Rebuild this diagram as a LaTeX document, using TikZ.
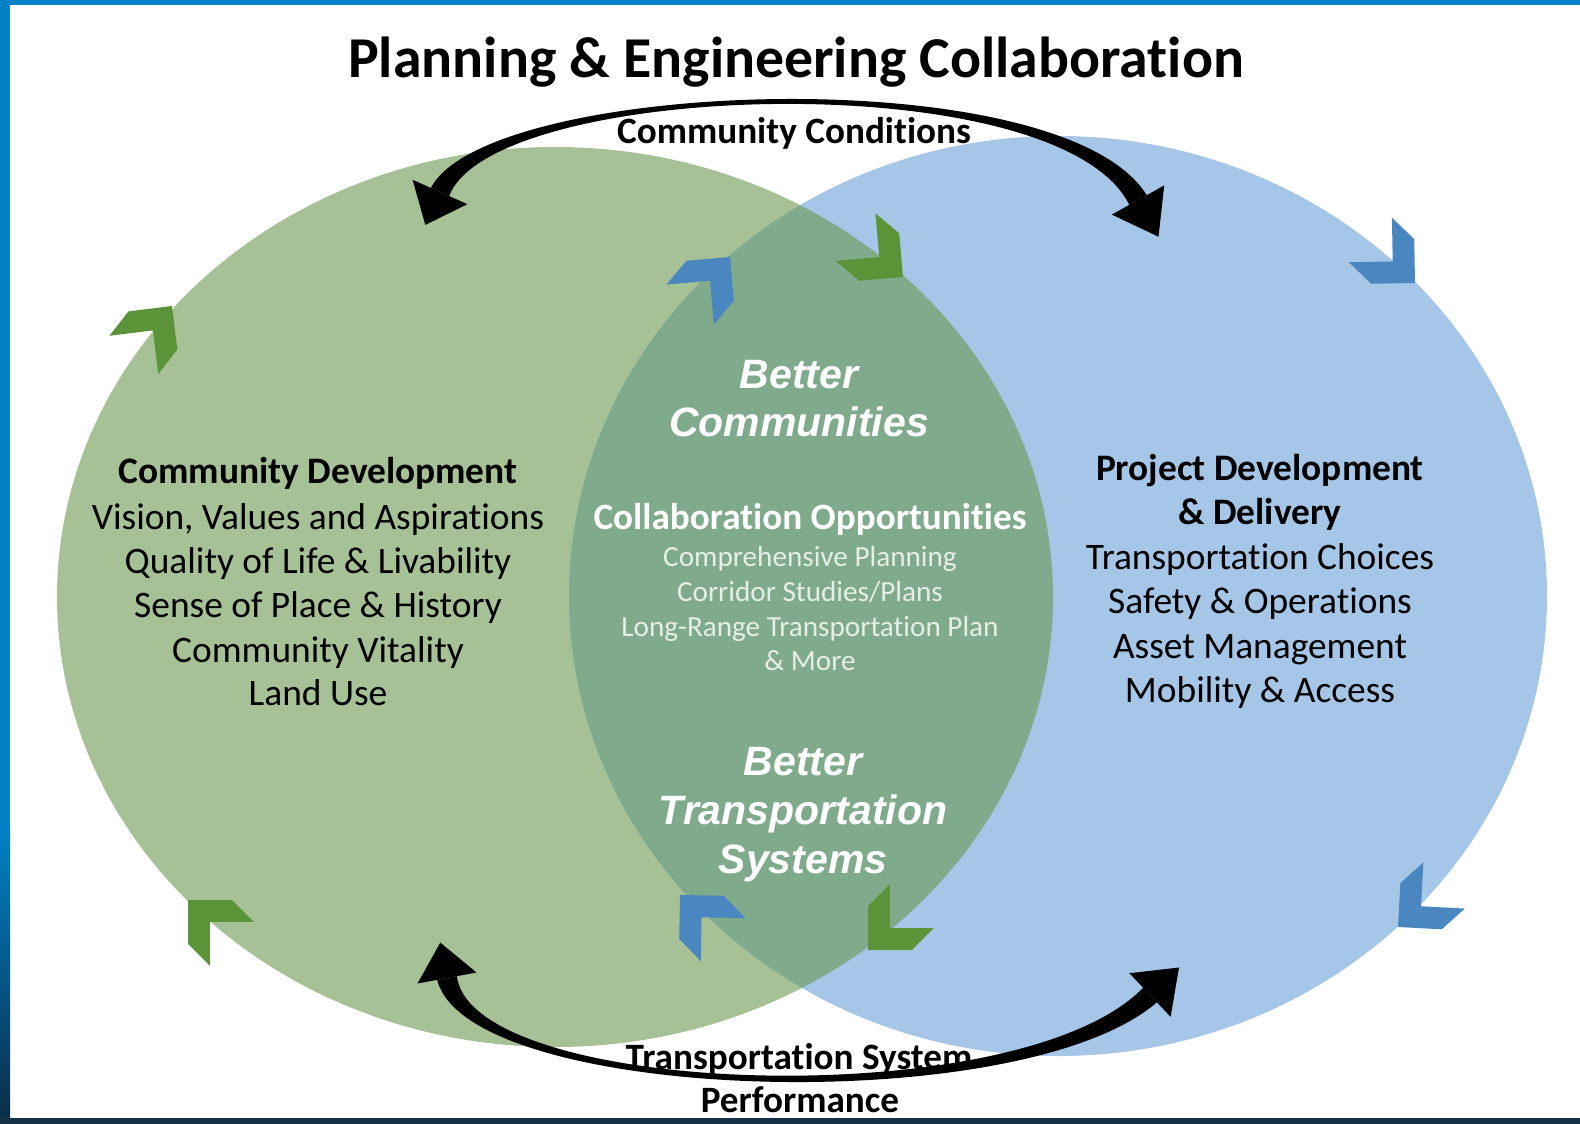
\documentclass[tikz,border=0pt]{standalone}
\usepackage{fontspec}
\setmainfont{Carlito}[Ligatures=NoCommon]
\newfontfamily\arialf{Liberation Sans}
\usetikzlibrary{calc}
\definecolor{gcirc}{HTML}{A7C196}
\definecolor{bcirc}{HTML}{A6C6E8}
\definecolor{lens}{HTML}{80AA8C}
\definecolor{gchev}{HTML}{5B9338}
\definecolor{bchev}{HTML}{4A86BF}
\definecolor{frameblue}{HTML}{0081C6}
\definecolor{framedark}{HTML}{0B2C46}
\definecolor{darkstrip}{HTML}{16324A}
\definecolor{smallwhite}{HTML}{E6EFE6}
\begin{document}
\begin{tikzpicture}[x=0.5pt,y=-0.5pt,
  pics/chev/.style={code={\fill[#1] (0,0) -- (-31,31) -- (-62,31) -- (-31,0) -- (-62,-31) -- (-31,-31) -- cycle;}},
  base/.style={anchor=base, inner sep=0pt, outer sep=0pt},
  titletxt/.style={base, font=\fontsize{28.9}{32}\selectfont\bfseries},
  arclab/.style={base, font=\fontsize{18.6}{22}\selectfont\bfseries},
  headtxt/.style={base, font=\fontsize{18.7}{22}\selectfont\bfseries},
  bodytxt/.style={base, font=\fontsize{18.7}{22}\selectfont},
  bettertxt/.style={base, text=white, font=\fontsize{20.5}{24}\selectfont\arialf\bfseries\itshape},
  collabhead/.style={base, text=white, font=\fontsize{18.6}{22}\selectfont\bfseries},
  collabtxt/.style={base, text=smallwhite, font=\fontsize{14.6}{17}\selectfont},
  arcfill/.style={fill=black}
]
\useasboundingbox (0,0) rectangle (1580,1124);
\fill[white] (0,0) rectangle (1580,1124);
% frame strips
\fill[frameblue] (0,0) rectangle (1580,5);
\fill[frameblue] (0,0) rectangle (10,830);
\shade[top color=frameblue, bottom color=framedark] (0,830) rectangle (10,1124);
\fill[darkstrip] (0,1118) rectangle (1580,1124);

% circles
\fill[gcirc] (555,597) ellipse [x radius=498, y radius=450];
\fill[bcirc] (1058,596) ellipse [x radius=489, y radius=460];
\begin{scope}
  \clip (555,597) ellipse [x radius=498, y radius=450];
  \fill[lens] (1058,596) ellipse [x radius=489, y radius=460];
\end{scope}

% chevrons
\pic[rotate=52]   at (172,306)  {chev=gchev};
\pic[rotate=135]  at (188,900)  {chev=gchev};
\pic[rotate=-40]  at (903,277)  {chev=gchev};
\pic[rotate=-135] at (868,950)  {chev=gchev};
\pic[rotate=50]   at (730,257)  {chev=bchev};
\pic[rotate=-44]  at (1415,283) {chev=bchev};
\pic[rotate=-138] at (1398,927) {chev=bchev};
\pic[rotate=134]  at (680,895)  {chev=bchev};

% top curved double arrow
\coordinate (tA) at (440,192);
\coordinate (tB) at (1138,200);
\fill[arcfill] (430.9,187.9) .. controls (487.7,79) and (1061,57.5) .. (1146.7,195.1)
   -- (1129.3,204.9) .. controls (1059,62.5) and (492.3,81) .. (449.1,196.1) -- cycle;
\fill[arcfill] (467.4,204.2) -- (425.3,224.9) -- (412.6,179.8) -- cycle;
\fill[arcfill] (1164.2,185.4) -- (1158.5,236.7) -- (1111.8,214.6) -- cycle;

% bottom curved double arrow
\coordinate (bA) at (447,978);
\coordinate (bB) at (1150,995);
\fill[arcfill] (437.2,979.9) .. controls (468,1102.5) and (1020,1120.5) .. (1156.9,1002.3)
   -- (1143.1,987.7) .. controls (1020,1115.5) and (472,1097.5) .. (456.8,976.1) -- cycle;
\fill[arcfill] (476.5,972.5) -- (440.3,942.6) -- (417.5,983.5) -- cycle;
\fill[arcfill] (1170.6,1016.8) -- (1179,967.5) -- (1129.4,973.2) -- cycle;

% texts
\node[titletxt] (title) at (796,77) {Planning \& Engineering Collaboration};
\node[arclab] (cc) at (794,143) {Community Conditions};
\node[arclab] (tsp1) at (799,1069) {Transportation System};
\node[arclab] (tsp2) at (800,1112) {Performance};

\node[headtxt] (cd0) at (318,483) {Community Development};
\node[bodytxt] (cd1) at (318,529) {Vision, Values and Aspirations};
\node[bodytxt] (cd2) at (318,573) {Quality of Life \& Livability};
\node[bodytxt] (cd3) at (318,617.5) {Sense of Place \& History};
\node[bodytxt] (cd4) at (318,662) {Community Vitality};
\node[bodytxt] (cd5) at (318,705) {Land Use};

\node[headtxt] (pd0) at (1260,480.5) {Project Development};
\node[headtxt] (pd1) at (1260,524) {\& Delivery};
\node[bodytxt] (pd2) at (1260,569) {Transportation Choices};
\node[bodytxt] (pd3) at (1260,613.5) {Safety \& Operations};
\node[bodytxt] (pd4) at (1260,658) {Asset Management};
\node[bodytxt] (pd5) at (1260,702) {Mobility \& Access};

\node[bettertxt] (bc1) at (799,388) {Better};
\node[bettertxt] (bc2) at (799,436) {Communities};
\node[collabhead] (co0) at (810,529) {Collaboration Opportunities};
\node[collabtxt] (co1) at (810,566) {Comprehensive Planning};
\node[collabtxt] (co2) at (810,601.5) {Corridor Studies/Plans};
\node[collabtxt] (co3) at (810,636) {Long-Range Transportation Plan};
\node[collabtxt] (co4) at (810,670) {\& More};
\node[bettertxt] (bt1) at (803,775) {Better};
\node[bettertxt] (bt2) at (803,824) {Transportation};
\node[bettertxt] (bt3) at (803,873) {Systems};
\end{tikzpicture}
\end{document}
